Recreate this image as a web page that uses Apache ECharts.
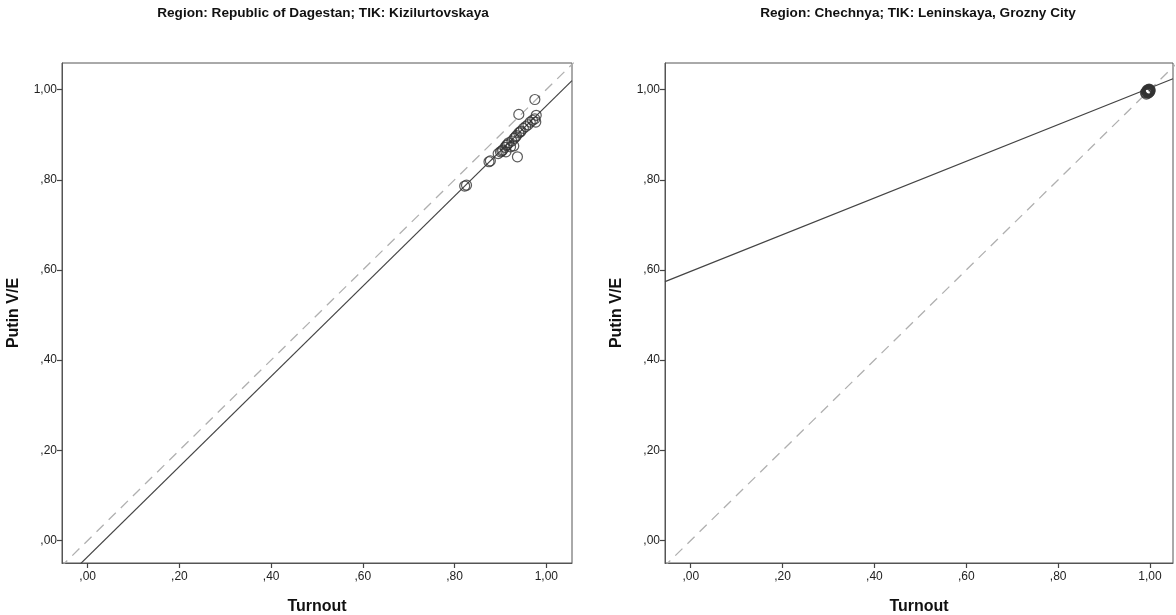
<!DOCTYPE html>
<html><head><meta charset="utf-8">
<script src="https://cdn.jsdelivr.net/npm/echarts@6/dist/echarts.min.js"></script>
<style>html,body{margin:0;padding:0;background:#fff}#c{width:1176px;height:615px}</style>
</head><body><div id="c"></div>
<script>
// ---- data ----
const titles = ['Region: Republic of Dagestan; TIK: Kizilurtovskaya', 'Region: Chechnya; TIK: Leninskaya, Grozny City'];
const xName = 'Turnout';
const yName = 'Putin V/E';
const tickValues = [0, 0.2, 0.4, 0.6, 0.8, 1.0];
// Dagestan, Kizilurtovskaya precincts: [turnout, putin share of electorate]
const dagTurnout = [0.822,0.826,0.875,0.878,0.895,0.900,0.903,0.905,0.910,0.913,0.915,0.918,0.922,0.925,0.929,0.930,0.933,0.935,0.937,0.940,0.943,0.945,0.950,0.955,0.960,0.965,0.970,0.975,0.977,0.978,0.975,0.940,0.912];
const dagPutin   = [0.786,0.788,0.840,0.842,0.858,0.862,0.864,0.866,0.872,0.876,0.878,0.882,0.873,0.886,0.875,0.892,0.895,0.898,0.851,0.904,0.906,0.908,0.914,0.918,0.922,0.928,0.932,0.935,0.928,0.943,0.978,0.945,0.862];
// Chechnya, Leninskaya precincts
const cheTurnout = [0.990,0.992,0.993,0.994,0.995,0.996,0.997,0.998,0.999,1.000,0.995,0.997,0.999,0.992,0.996,1.000,0.998,0.994];
const chePutin   = [0.993,0.995,0.996,0.994,0.997,0.998,0.996,0.999,0.998,1.000,0.992,0.993,0.995,0.990,1.000,0.997,1.001,0.999];
// fitted regression lines (endpoints) and identity reference lines
const dagFit = [[-0.056, -0.092], [1.056, 1.020]];
const cheFit = [[-0.056, 0.574], [1.050, 1.024]];
const identity = [[-0.06, -0.06], [1.06, 1.06]];

const FONT = '"Liberation Sans", Arial, sans-serif';
const fmt = v => { const s = Math.abs(v).toFixed(2).replace('.', ','); return s.startsWith('0') ? s.slice(1) : s; };

function xAxis(i, max) {
  return {
    gridIndex: i, type: 'value', min: -0.056, max: max,
    name: xName, nameLocation: 'middle', nameGap: 36,
    nameTextStyle: {fontFamily: FONT, fontWeight: 'bold', fontSize: 16, color: '#111'},
    axisLine: {show: true, onZero: false, lineStyle: {color: '#555', width: 1}},
    axisTick: {show: true, inside: false, length: 5, customValues: tickValues, lineStyle: {color: '#444', width: 1.2}},
    axisLabel: {customValues: tickValues, formatter: fmt, fontFamily: FONT, fontSize: 12, color: '#222', margin: 8},
    splitLine: {show: false}
  };
}
function yAxis(i) {
  return {
    gridIndex: i, type: 'value', min: -0.050, max: 1.059,
    name: yName, nameLocation: 'middle', nameGap: 40, nameRotate: 90,
    nameTextStyle: {fontFamily: FONT, fontWeight: 'bold', fontSize: 16, color: '#111'},
    axisLine: {show: true, onZero: false, lineStyle: {color: '#555', width: 1}},
    axisTick: {show: true, inside: false, length: 5, customValues: tickValues, lineStyle: {color: '#444', width: 1.2}},
    axisLabel: {customValues: tickValues, formatter: fmt, fontFamily: FONT, fontSize: 12, color: '#222', margin: 5},
    splitLine: {show: false}
  };
}
const zip = (a, b) => a.map((v, i) => [v, b[i]]);
function scatter(i, xs, ys) {
  return {type: 'scatter', xAxisIndex: i, yAxisIndex: i, data: zip(xs, ys), symbol: 'circle', symbolSize: 10,
    itemStyle: {color: 'rgba(255,255,255,0)', borderColor: '#333', borderWidth: 1.2}, silent: true, z: 5};
}
function line(i, pts, dashed) {
  return {type: 'line', xAxisIndex: i, yAxisIndex: i, data: pts, symbol: 'none', clip: true, silent: true,
    lineStyle: dashed ? {color: '#b0b0b0', width: 1.3, type: [10, 7]} : {color: '#444', width: 1.2}, z: dashed ? 2 : 3};
}

const chart = echarts.init(document.getElementById('c'), null, {renderer: 'canvas'});
chart.setOption({
  animation: false,
  backgroundColor: '#fff',
  title: [
    {text: titles[0], left: 318, top: 1, textAlign: 'center', textStyle: {fontFamily: FONT, fontWeight: 'bold', fontSize: 13.6, color: '#111'}},
    {text: titles[1], left: 913, top: 1, textAlign: 'center', textStyle: {fontFamily: FONT, fontWeight: 'bold', fontSize: 13.6, color: '#111'}}
  ],
  grid: [
    {left: 62, top: 63, width: 510, height: 500, outerBoundsMode: 'none', containLabel: false, show: true, borderColor: '#555', borderWidth: 1, backgroundColor: '#fff'},
    {left: 665, top: 63, width: 508, height: 500, outerBoundsMode: 'none', containLabel: false, show: true, borderColor: '#555', borderWidth: 1, backgroundColor: '#fff'}
  ],
  xAxis: [xAxis(0, 1.056), xAxis(1, 1.050)],
  yAxis: [yAxis(0), yAxis(1)],
  series: [
    line(0, identity, true), line(0, dagFit, false), scatter(0, dagTurnout, dagPutin),
    line(1, identity, true), line(1, cheFit, false), scatter(1, cheTurnout, chePutin)
  ]
});
</script></body></html>
